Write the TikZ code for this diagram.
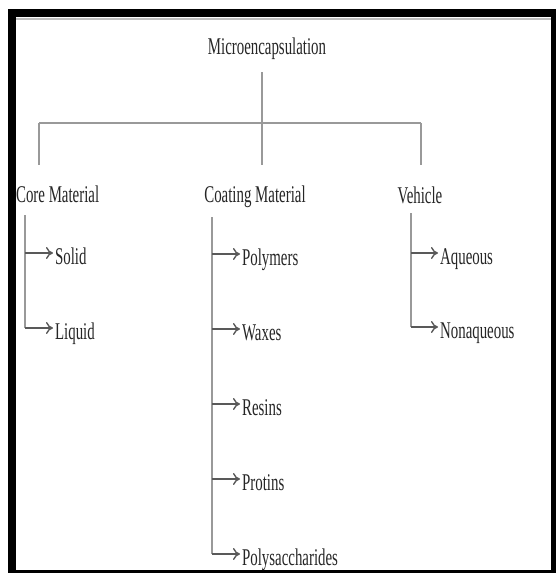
\documentclass[tikz,border=0pt]{standalone}
\usepackage{fontspec}
\setmainfont{Liberation Serif}
\usepackage{tikz}
\usetikzlibrary{arrows.meta}

\tikzset{
  txt/.style={font=\fontsize{24}{28}\selectfont, text=black!85, inner sep=0pt, xscale=0.62},
  item/.style={txt, anchor=west, text height=22pt, text depth=0pt},
  branch/.style={draw=black!40, line width=1.6pt},
  tip/.style={draw=black!65, line width=1.4pt, -{Computer Modern Rightarrow[length=7pt,width=12pt]}, shorten >=2pt},
}

\begin{document}
\begin{tikzpicture}[x=1pt,y=-1pt]
\useasboundingbox (0,0) rectangle (556,573);
\fill[black] (8,9) rectangle (556,573);
\fill[white] (16,17) rectangle (551,570);
\draw[black!25,line width=2pt] (16,19) -- (551,19);

\node[txt,anchor=base] (root) at (267,54) {Microencapsulation};
\coordinate (hub) at (262,123);
\coordinate (barL) at (39,123);
\coordinate (barR) at (421,123);
\draw[branch] (barL) -- (barR);
\draw[branch,shorten <=18pt] (root.base -| hub) -- (hub);

\node[txt,anchor=base west] (core) at (16,202) {Core Material};
\node[txt,anchor=base] (coat) at (255,202) {Coating Material};
\node[txt,anchor=base] (veh) at (420,203) {Vehicle};
\draw[branch,shorten >=37pt] (barL) -- (barL |- core.base);
\draw[branch,shorten >=37pt] (hub) -- (hub |- coat.base);
\draw[branch,shorten >=38pt] (barR) -- (barR |- veh.base);

\coordinate (spineL) at (25,215);
\coordinate (spineM) at (212,217);
\coordinate (spineR) at (411,213);

\node[item] (solid) at (55,253) {Solid};
\node[item] (liquid) at (55,328) {Liquid};
\draw[branch] (spineL) -- (spineL |- liquid);
\foreach \n in {solid,liquid}
  \draw[tip] (spineL |- \n) -- (\n);

\foreach \n/\t [count=\i] in {poly/Polymers,wax/Waxes,resin/Resins,prot/Protins,sacch/Polysaccharides}
  \node[item] (\n) at (242,179+75*\i) {\t};
\draw[branch] (spineM) -- (spineM |- sacch);
\foreach \n in {poly,wax,resin,prot,sacch}
  \draw[tip] (spineM |- \n) -- (\n);

\node[item] (aq) at (440,253) {Aqueous};
\node[item] (nonaq) at (440,327) {Nonaqueous};
\draw[branch] (spineR) -- (spineR |- nonaq);
\foreach \n in {aq,nonaq}
  \draw[tip] (spineR |- \n) -- (\n);
\end{tikzpicture}
\end{document}
